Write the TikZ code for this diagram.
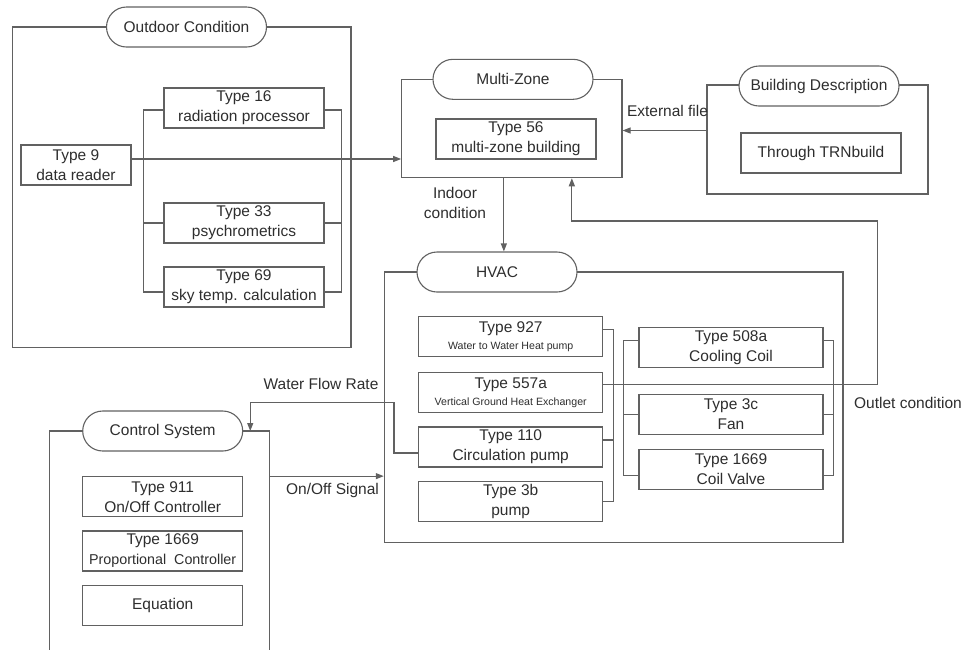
\documentclass[tikz,border=0pt]{standalone}
\usepackage{fontspec}
\setmainfont{Liberation Sans}
\usetikzlibrary{arrows.meta}
\newcommand{\subline}[1]{{\fontsize{10.6}{13}\selectfont #1}}

\begin{document}
\begin{tikzpicture}[x = 1pt, y = -1pt, line width = 1.1pt, color = black!62, text = black!82,
  font = \fontsize{15.5}{20}\selectfont,
  frame/.style = {draw, inner sep = 0pt},
  tag/.style = {draw, fill = white, rounded corners = 20pt, minimum width = 160pt, minimum height = 40pt, inner sep = 0pt},
  typebox/.style = {draw, fill = white, minimum width = 160pt, minimum height = 40pt, inner sep = 0pt, align = center},
  hvacbox/.style = {typebox, minimum width = 184pt},
  flow/.style = {-{Triangle[length = 8pt, width = 6pt]}}]
  \useasboundingbox (0, 0) rectangle (964, 649);
  \clip (0, 0) rectangle (964, 649);

  \node (outdoorframe) [frame, minimum width = 338.7pt, minimum height = 320.3pt] at (181.65, 187.15) {};
  \node (outdoor) [tag] at (186.5, 27) {Outdoor Condition};
  \node (t9) [typebox, minimum width = 110pt] at (76, 165) {Type 9\\data reader};
  \node (t16) [typebox] at (244, 108) {Type 16\\radiation processor};
  \node (t33) [typebox] at (244, 223) {Type 33\\psychrometrics};
  \node (t69) [typebox] at (244, 287) {Type 69\\sky temp. calculation};

  \node (mzframe) [frame, minimum width = 220.3pt, minimum height = 98.4pt] at (511.85, 128.5) {};
  \node (multizone) [tag] at (513, 79.3) {Multi-Zone};
  \node (t56) [typebox] at (516, 139) {Type 56\\multi-zone building};

  \node (bdframe) [frame, minimum width = 221pt, minimum height = 109pt] at (817.5, 139.5) {};
  \node (building) [tag] at (819, 86) {Building Description};
  \node (trn) [typebox] at (821, 153) {Through TRNbuild};

  \node (hvacframe) [frame, minimum width = 458.7pt, minimum height = 270.3pt] at (613.65, 407.15) {};
  \node (hvac) [tag] at (497, 272) {HVAC};
  \node (t927) [hvacbox] at (510.7, 336.7) {Type 927\\[-3pt]\subline{Water to Water Heat pump}};
  \node (t557) [hvacbox] at (510.7, 392.7) {Type 557a\\[-3pt]\subline{Vertical Ground Heat Exchanger}};
  \node (t110) [hvacbox] at (510.7, 447) {Type 110\\Circulation pump};
  \node (t3b) [hvacbox] at (510.7, 501.7) {Type 3b\\pump};
  \node (t508) [hvacbox] at (731, 347.3) {Type 508a\\Cooling Coil};
  \node (t3c) [hvacbox] at (731, 414.3) {Type 3c\\Fan};
  \node (t1669) [hvacbox] at (731, 469.3) {Type 1669\\Coil Valve};

  \node (ctrlframe) [frame, minimum width = 220pt, minimum height = 269pt] at (159.3, 565.5) {};
  \node (control) [tag] at (162.7, 431) {Control System};
  \node (t911) [typebox] at (162.7, 496.7) {Type 911\\On/Off Controller};
  \node (t1669p) [typebox] at (162.7, 551) {Type 1669\\{\fontsize{14.3}{20}\selectfont Proportional\ \ Controller}};
  \node (equation) [typebox] at (162.7, 605.7) {Equation};

  \draw ([yshift = -2pt]t16.west) -- ++(-20, 0) |- ([yshift = -5pt]t69.west);
  \draw (t33.west) -- ++(-20, 0);
  \draw ([yshift = -2pt]t16.east) -- ++(17, 0) |- ([yshift = -5pt]t69.east);
  \draw (t33.east) -- ++(17, 0);

  \draw ([yshift = 7pt]t927.east) -- ++(10, 0) |- (t3b.east);
  \draw ([yshift = 7pt]t110.east) -- ++(10, 0);
  \draw ([yshift = 7pt]t508.west) -- ++(-15, 0) |- ([yshift = -6pt]t1669.west);
  \draw (t3c.west) -- ++(-15, 0);
  \draw ([yshift = 7pt]t508.east) -- ++(10, 0) |- ([yshift = -6pt]t1669.east);
  \draw (t3c.east) -- ++(10, 0);

  \coordinate (outletturn) at (877.7, 221);
  \coordinate (flowturn) at (394, 402.3);

  \draw [flow] ([yshift = 6pt]t9.east) -- ([yshift = 6pt]t9.east -| mzframe.west);
  \draw [flow] ([yshift = 9pt]bdframe.west) -- ([yshift = 9pt]bdframe.west -| mzframe.east);
  \draw [flow] ([xshift = -8pt]mzframe.south) -- ([xshift = -8pt]mzframe.south |- hvac.north);
  \draw [flow] ([yshift = 8pt]t557.east) -| (outletturn) -| ([xshift = 60pt]mzframe.south);
  \draw [flow] ([yshift = -6pt]t110.west) -| (flowturn) -| ([xshift = 7pt]control.east);
  \draw [flow] (ctrlframe.east |- t911.north) -- (hvacframe.west |- t911.north);

  \node (extfile) at (667.5, 111) {External file};
  \node (indoor) [align = center] at (455, 203) {Indoor\\condition};
  \node (outlet) at (908, 403) {Outlet condition};
  \node (flowrate) at (321, 384) {Water Flow Rate};
  \node (signal) at (332.5, 490) {On/Off Signal};
\end{tikzpicture}
\end{document}
